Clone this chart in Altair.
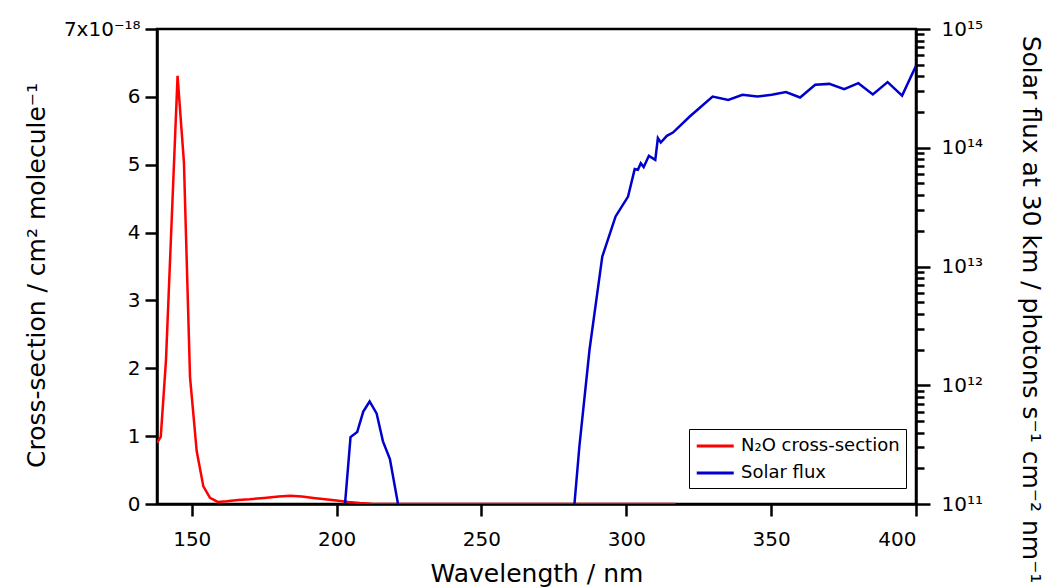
import altair as alt
import pandas as pd

# N2O absorption cross-section (units of 1e-18 cm^2 molecule^-1)
n2o_wl = [138, 139.3, 141.1, 145.1, 147.3, 149.4, 151.7, 154, 156.3, 159, 162, 166,
          170, 175, 180, 184, 188, 192, 196, 200, 204, 208, 212, 220, 317]
n2o_xs = [0.90, 0.99, 2.12, 6.31, 5.03, 1.87, 0.78, 0.26, 0.09, 0.03, 0.04, 0.06,
          0.07, 0.09, 0.11, 0.12, 0.11, 0.09, 0.07, 0.05, 0.03, 0.015, 0.005, 0.0, 0.0]

# Solar flux at 30 km (photons s-1 cm-2 nm-1), two visible segments
sf_wl_a = [202.9, 204.8, 207.1, 209.2, 211.4, 213.8, 216.0, 218.4, 221.2]
sf_a = [1.0e11, 3.66e11, 4.03e11, 6.0e11, 7.3e11, 5.8e11, 3.37e11, 2.39e11, 1.0e11]

sf_wl_b = [282.1, 283.8, 287.3, 291.7, 296.3, 300.6, 302.9, 304.0, 305.0, 306.0,
           307.8, 310.0, 310.9, 311.9, 314.0, 316.1, 321.9, 329.8, 335.2, 340.1,
           345.2, 350.2, 355.1, 360.0, 365.2, 370.1, 375.2, 380.1, 385.1, 390.2,
           395.2, 400.0]
sf_b = [1.0e11, 3.05e11, 1.99e12, 1.21e13, 2.64e13, 3.88e13, 6.61e13, 6.52e13, 7.41e13, 6.87e13,
        8.55e13, 7.91e13, 1.205e14, 1.107e14, 1.259e14, 1.343e14, 1.832e14, 2.70e14, 2.53e14, 2.79e14,
        2.70e14, 2.79e14, 2.94e14, 2.65e14, 3.39e14, 3.45e14, 3.11e14, 3.50e14, 2.81e14, 3.57e14,
        2.75e14, 4.90e14]

x_ticks = [150, 200, 250, 300, 350, 400]
left_ticks = [0, 1, 2, 3, 4, 5, 6, 7]
right_major = [1e11, 1e12, 1e13, 1e14, 1e15]
right_minor = [m * 10 ** d for d in range(11, 15) for m in range(2, 10)]
series_names = ["N₂O cross-section", "Solar flux"]
series_colors = ["#ff0000", "#0000cc"]

red_df = pd.DataFrame({"wl": n2o_wl, "val": n2o_xs, "series": series_names[0]})
blue_df = pd.DataFrame({
    "wl": sf_wl_a + sf_wl_b,
    "flux": sf_a + sf_b,
    "seg": ["a"] * len(sf_wl_a) + ["b"] * len(sf_wl_b),
    "series": series_names[1],
})

FONT = "DejaVu Sans"
common_axis = dict(domainColor="black", domainWidth=2.5, tickColor="black", tickWidth=2.5,
                   labelColor="black", labelFont=FONT, labelFontSize=20, titleFont=FONT,
                   titleFontSize=25, titleFontWeight="normal", titleColor="black", grid=False)

x_enc = alt.X("wl:Q", scale=alt.Scale(domain=[138, 400], nice=False, zero=False),
              axis=alt.Axis(values=x_ticks, title="Wavelength / nm", tickSize=12, labelPadding=13,
                            titleX=379.5, titleY=77, titleBaseline="alphabetic", **common_axis))

color = alt.Color("series:N", scale=alt.Scale(domain=series_names, range=series_colors),
                  legend=alt.Legend(title=None, orient="none", legendX=532, legendY=400,
                                    strokeColor="black", fillColor="white", padding=6,
                                    symbolType="M-1,0H3", symbolSize=342, symbolStrokeWidth=3,
                                    labelFont=FONT, labelFontSize=18, labelColor="black",
                                    rowPadding=7, labelOffset=24))

red = alt.Chart(red_df).mark_line(strokeWidth=2.5, clip=True).encode(
    x=x_enc,
    y=alt.Y("val:Q", scale=alt.Scale(domain=[0, 7], nice=False, zero=True),
            axis=alt.Axis(orient="left", values=left_ticks, tickSize=12, labelPadding=5,
                          labelExpr="datum.value == 7 ? '7x10⁻¹⁸' : datum.label",
                          title="Cross-section / cm² molecule⁻¹", titleX=-121, titleY=246,
                          titleBaseline="middle", **common_axis)),
    color=color,
)

blue = alt.Chart(blue_df).mark_line(strokeWidth=2.5, clip=True).encode(
    x=x_enc,
    y=alt.Y("flux:Q", scale=alt.Scale(type="log", domain=[1e11, 1e15], nice=False),
            axis=alt.Axis(orient="right", values=right_major, tickSize=14, labelPadding=11,
                          labelExpr="'10' + ['¹¹','¹²','¹³','¹⁴','¹⁵'][round(log(datum.value)/LN10) - 11]",
                          title="Solar flux at 30 km / photons s⁻¹ cm⁻² nm⁻¹", titleAngle=90,
                          titleX=114, titleY=280, titleBaseline="middle", **common_axis)),
    color=color,
    detail="seg:N",
)

minor = alt.Chart(blue_df).mark_point(opacity=0).encode(
    x=x_enc,
    y=alt.Y("flux:Q", scale=alt.Scale(type="log", domain=[1e11, 1e15], nice=False),
            axis=alt.Axis(orient="right", values=right_minor, tickSize=8, labels=False,
                          domain=False, title=None, tickColor="black", tickWidth=2.5, grid=False)),
)

chart = alt.layer(red, blue, minor).resolve_scale(y="independent").properties(
    width=759, height=475,
    padding={"left": 157, "top": 29, "right": 137, "bottom": 83},
    autosize=alt.AutoSizeParams(type="none"),
    background="white",
).configure_view(stroke="black", strokeWidth=2.5)

chart.save("out.html", embed_options={"renderer": "svg", "actions": False})
